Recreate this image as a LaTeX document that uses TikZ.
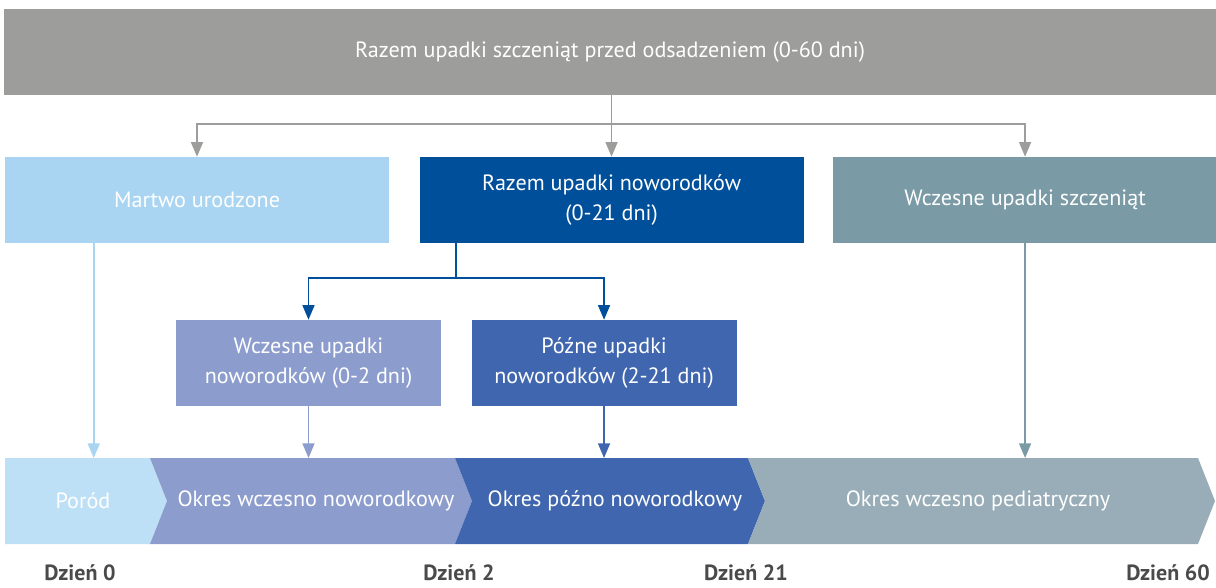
\documentclass[tikz,border=0pt]{standalone}
\usepackage{fontspec}
\setmainfont{PT Sans}
\usetikzlibrary{arrows.meta,positioning}
\definecolor{cTotal}{HTML}{9D9D9C}
\definecolor{cStill}{HTML}{A9D5F2}
\definecolor{cBirth}{HTML}{BDE0F7}
\definecolor{cNeo}{HTML}{004F9B}
\definecolor{cNeoEarly}{HTML}{8C9CCD}
\definecolor{cNeoLate}{HTML}{3F66AE}
\definecolor{cPup}{HTML}{7A9AA5}
\definecolor{cPed}{HTML}{98ADB7}
\definecolor{cDay}{HTML}{4A4A4A}

\begin{document}
\begin{tikzpicture}[x=0.75pt,y=-0.75pt,
    every node/.style={font=\fontsize{16.6}{23}\selectfont},
    box/.style={minimum width=288pt,minimum height=64.5pt,inner sep=0pt,
                text=white,align=center},
    subbox/.style={box,minimum width=198.75pt},
    phase/.style={text=white,inner sep=0pt},
    day/.style={text=cDay,inner sep=0pt,anchor=base,
                font=\fontsize{16.5}{20}\selectfont\bfseries},
    link/.style={line width=1.2pt,-{Triangle[width=9pt,length=11pt]}}]
  \useasboundingbox (0,0) rectangle (1216,588);

  % boxes
  \node[box,fill=cTotal,minimum width=909pt] (total) at (610,52)
       {Razem upadki szczeniąt przed odsadzeniem (0-60 dni)};
  \node[box,fill=cStill] (stillborn) at (197,200) {Martwo urodzone};
  \node[box,fill=cNeo,right=22.5pt of stillborn] (neototal)
       {Razem upadki noworodków\\(0-21 dni)};
  \node[box,fill=cPup,right=21.75pt of neototal] (pupearly)
       {Wczesne upadki szczeniąt};
  \node[subbox,fill=cNeoEarly] (neoearly) at (308.5,363)
       {Wczesne upadki\\noworodków (0-2 dni)};
  \node[subbox,fill=cNeoLate,right=22.5pt of neoearly] (neolate)
       {Późne upadki\\noworodków (2-21 dni)};

  % time bar
  \foreach \xa/\xb/\nl/\col/\name/\tx/\txt in
      {5/150/0/cBirth/birth/83/Poród,
       150/455/17/cNeoEarly/earlyphase/316/Okres wczesno noworodkowy,
       455/748/17/cNeoLate/latephase/615/Okres późno noworodkowy,
       748/1198/17/cPed/pedphase/978/Okres wczesno pediatryczny}
  {
    \fill[\col] (\xa,458) -- (\xb,458) -- (\xb+17,501) -- (\xb,544)
                -- (\xa,544) -- (\xa+\nl,501) -- cycle;
    \node[phase] (\name) at (\tx,501) {\txt};
  }
  \coordinate (bar) at (0,458);

  \node[day] (day0)  at (80,580)   {Dzień 0};
  \node[day] (day2)  at (459,580)  {Dzień 2};
  \node[day] (day21) at (746,580)  {Dzień 21};
  \node[day] (day60) at (1168,580) {Dzień 60};

  % connectors
  \coordinate (split) at (0,124);
  \coordinate (nsplit) at (456,278);
  \draw[link,cTotal] (total.south -| neototal.north) -- (neototal.north);
  \draw[link,cTotal] (split -| neototal.north) -| (stillborn.north);
  \draw[link,cTotal] (split -| neototal.north) -| (pupearly.north);

  \draw[link,cNeo] (neototal.south -| nsplit) -- (nsplit) -| (neoearly.north);
  \draw[link,cNeo] (neototal.south -| nsplit) -- (nsplit) -| (neolate.north);

  \draw[link,cStill] ([xshift=66.75pt]stillborn.south west)
        -- ([xshift=66.75pt]stillborn.south west |- bar);
  \draw[link,cNeoEarly] (neoearly.south) -- (neoearly.south |- bar);
  \draw[link,cNeoLate] (neolate.south) -- (neolate.south |- bar);
  \draw[link,cPup] (pupearly.south) -- (pupearly.south |- bar);
\end{tikzpicture}
\end{document}
